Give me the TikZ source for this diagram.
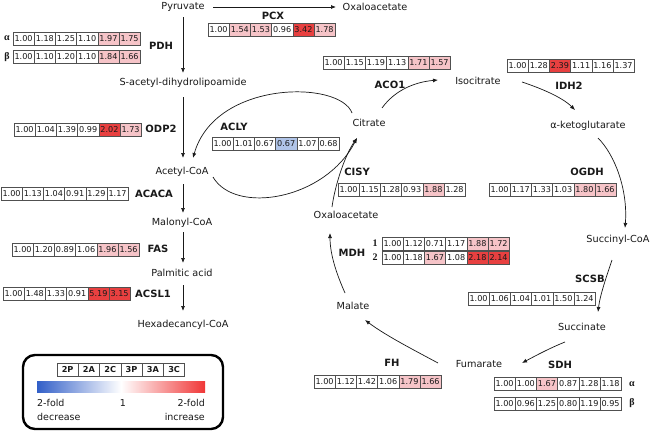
\documentclass[tikz,border=0pt]{standalone}
\usepackage{fontspec}
\setmainfont{DejaVu Sans}
\newfontfamily\grk{Liberation Serif}
\usetikzlibrary{arrows.meta}
\definecolor{cP}{RGB}{246,196,200}
\definecolor{cR}{RGB}{232,64,64}
\definecolor{cB}{RGB}{176,196,232}
\definecolor{cW}{RGB}{255,255,255}
\definecolor{cellline}{RGB}{80,80,80}
\definecolor{gBlue}{RGB}{50,95,200}
\definecolor{gRed}{RGB}{240,55,55}
\definecolor{ink}{RGB}{25,25,25}
\newcommand\vrow[4]{%
  \foreach \v/\c [count=\i] in {#4} {%
    \node[cell,fill=\c] (#1-\i) at ({#2+(\i-0.5)*21.2},{#3+6.75}) {\v};}}
\begin{document}
\begin{tikzpicture}[x=1pt,y=-1pt,
  met/.style={font=\fontsize{9.7}{11}\selectfont, inner sep=0pt, text=ink},
  enz/.style={font=\bfseries\fontsize{10}{12}\selectfont, inner sep=0pt, text=ink},
  grl/.style={font=\grk\bfseries\fontsize{10}{11}\selectfont, inner sep=0pt, text=ink},
  cell/.style={draw=cellline, line width=0.6pt, minimum width=21.2pt, minimum height=13.5pt, inner sep=0pt, text=ink, font=\fontsize{8.1}{9}\selectfont},
  hcell/.style={draw=cellline, line width=0.6pt, minimum width=21.2pt, minimum height=13pt, inner sep=0pt, text=ink, font=\bfseries\fontsize{8.2}{9}\selectfont},
  leg/.style={font=\fontsize{9.5}{11}\selectfont, inner sep=0pt, text=ink},
  arr/.style={-{Latex[length=5pt,width=4pt]}, line width=0.7pt, draw=ink}]
\fill[white] (0,0) rectangle (656,431);
\useasboundingbox (0,0) rectangle (656,431);

% metabolites (left chain)
\node[met] (pyr) at (183,7) {Pyruvate};
\node[met] (oaa1) at (375,7) {Oxaloacetate};
\node[met] (sadl) at (183,83) {S-acetyl-dihydrolipoamide};
\node[met] (acoa) at (182,172) {Acetyl-CoA};
\node[met] (mal) at (182,223) {Malonyl-CoA};
\node[met] (palm) at (182,273) {Palmitic acid};
\node[met] (hexa) at (183,325) {Hexadecancyl-CoA};
% TCA metabolites
\node[met] (cit) at (369,123) {Citrate};
\node[met] (iso) at (478,81) {Isocitrate};
\node[met] (akg) at (588,126) {α-ketoglutarate};
\node[met] (scoa) at (618,240) {Succinyl-CoA};
\node[met] (succ) at (582,327) {Succinate};
\node[met] (fum) at (479,364) {Fumarate};
\node[met] (malt) at (353,306) {Malate};
\node[met] (oaa2) at (346,215) {Oxaloacetate};

% enzyme labels
\node[enz] (lpcx) at (273,16) {PCX};
\node[enz] (lpdh) at (161,46) {PDH};
\node[enz] (lodp) at (161,129) {ODP2};
\node[enz] (lacly) at (234,127) {ACLY};
\node[enz] (lacaca) at (154,194) {ACACA};
\node[enz] (lfas) at (158,249) {FAS};
\node[enz] (lacsl) at (153,294) {ACSL1};
\node[enz] (laco) at (390,85) {ACO1};
\node[enz] (lidh) at (569,86) {IDH2};
\node[enz] (lcisy) at (357,172) {CISY};
\node[enz] (logdh) at (587,172) {OGDH};
\node[enz] (lmdh) at (352,253) {MDH};
\node[enz] (lscsb) at (590,279) {SCSB};
\node[enz] (lfh) at (392,363) {FH};
\node[enz] (lsdh) at (560,365) {SDH};
\node[grl] (gpdha) at (7,38) {α};
\node[grl] (gpdhb) at (7,57) {β};
\node[grl] (gsdha) at (632,384) {α};
\node[grl] (gsdhb) at (632,403) {β};
\node[grl] (gmdh1) at (375,243) {1};
\node[grl] (gmdh2) at (375,257) {2};

% value tables
\vrow{pcx}{208}{23}{1.00/cW,1.54/cP,1.53/cP,0.96/cW,3.42/cR,1.78/cP}
\vrow{pdha}{13}{32}{1.00/cW,1.18/cW,1.25/cW,1.10/cW,1.97/cP,1.75/cP}
\vrow{pdhb}{13}{50}{1.00/cW,1.10/cW,1.20/cW,1.10/cW,1.84/cP,1.66/cP}
\vrow{odp}{14}{123}{1.00/cW,1.04/cW,1.39/cW,0.99/cW,2.02/cR,1.73/cP}
\vrow{acly}{212}{137}{1.00/cW,1.01/cW,0.67/cW,0.67/cB,1.07/cW,0.68/cW}
\vrow{acaca}{1}{187}{1.00/cW,1.13/cW,1.04/cW,0.91/cW,1.29/cW,1.17/cW}
\vrow{fas}{12}{243}{1.00/cW,1.20/cW,0.89/cW,1.06/cW,1.96/cP,1.56/cP}
\vrow{acsl}{3}{287}{1.00/cW,1.48/cW,1.33/cW,0.91/cW,5.19/cR,3.15/cR}
\vrow{aco}{323}{56}{1.00/cW,1.15/cW,1.19/cW,1.13/cW,1.71/cP,1.57/cP}
\vrow{idh}{507}{59}{1.00/cW,1.28/cW,2.39/cR,1.11/cW,1.16/cW,1.37/cW}
\vrow{cisy}{338}{183}{1.00/cW,1.15/cW,1.28/cW,0.93/cW,1.88/cP,1.28/cW}
\vrow{ogdh}{489}{183}{1.00/cW,1.17/cW,1.33/cW,1.03/cW,1.80/cP,1.66/cP}
\vrow{mdha}{382}{237}{1.00/cW,1.12/cW,0.71/cW,1.17/cW,1.88/cP,1.72/cP}
\vrow{mdhb}{382}{251}{1.00/cW,1.18/cW,1.67/cP,1.08/cW,2.18/cR,2.14/cR}
\vrow{scsb}{468}{292}{1.00/cW,1.06/cW,1.04/cW,1.01/cW,1.50/cW,1.24/cW}
\vrow{fh}{314}{375}{1.00/cW,1.12/cW,1.42/cW,1.06/cW,1.79/cP,1.66/cP}
\vrow{sdha}{494}{377}{1.00/cW,1.00/cW,1.67/cP,0.87/cW,1.28/cW,1.18/cW}
\vrow{sdhb}{494}{397}{1.00/cW,0.96/cW,1.25/cW,0.80/cW,1.19/cW,0.95/cW}

% straight connectors
\draw[arr] ([shift={(0,10)}]pyr.center) -- ([shift={(0,-10)}]sadl.center);
\draw[arr] ([shift={(0,14)}]sadl.center) -- ([shift={(1,-14)}]acoa.center);
\draw[arr] ([shift={(1,12)}]acoa.center) -- ([shift={(1,-10)}]mal.center);
\draw[arr] ([shift={(1,9)}]mal.center) -- ([shift={(1,-10)}]palm.center);
\draw[arr] ([shift={(1,12)}]palm.center) -- ([shift={(0,-14)}]hexa.center);
\draw[arr] ([shift={(30,0)}]pyr.center) -- ([shift={(-39,0)}]oaa1.center);

% curved connectors
\draw[arr] ([shift={(-17,-10)}]cit.center) .. controls (340,80) and (215,80) .. ([shift={(11,-14)}]acoa.center);
\draw[arr] ([shift={(31,5)}]acoa.center) .. controls (235,215) and (325,200) .. ([shift={(-12,15)}]cit.center);
\draw[arr] ([shift={(-14,-8)}]oaa2.center) .. controls (335,185) and (345,155) .. ([shift={(-12,15)}]cit.center);
\draw[arr] ([shift={(13,-15)}]cit.center) .. controls (395,90) and (415,82) .. ([shift={(-40,-1)}]iso.center);
\draw[arr] ([shift={(44,1)}]iso.center) .. controls (540,88) and (562,97) .. ([shift={(-13,-16)}]akg.center);
\draw[arr] ([shift={(10,12)}]akg.center) .. controls (615,155) and (628,190) .. ([shift={(7,-12)}]scoa.center);
\draw[arr] ([shift={(-6,20)}]scoa.center) .. controls (607,275) and (600,295) .. ([shift={(16,-15)}]succ.center);
\draw[arr] ([shift={(-17,15)}]succ.center) .. controls (550,348) and (535,356) .. ([shift={(43,-1)}]fum.center);
\draw[arr] ([shift={(-41,-1)}]fum.center) .. controls (410,348) and (385,335) .. ([shift={(12,14)}]malt.center);
\draw[arr] ([shift={(-8,-13)}]malt.center) .. controls (337,275) and (330,255) .. ([shift={(-16,18)}]oaa2.center);

% legend
\node[draw=black, line width=2.4pt, rounded corners=12pt, minimum width=200pt, minimum height=74pt, inner sep=0pt] (legend) at (123,392) {};
\foreach \t [count=\i] in {2P,2A,2C,3P,3A,3C} {
  \node[hcell] (leg-\i) at ({57+(\i-0.5)*21.3},369.5) {\t};}
\node[minimum width=168pt, minimum height=11pt, inner sep=0pt, left color=gBlue, right color=gRed, middle color=white] (bar) at (121,386.5) {};
\node[leg, anchor=west] (lf1) at (37,403) {2-fold};
\node[leg, anchor=west] (ldec) at (37,417) {decrease};
\node[leg] (lone) at (123,403) {1};
\node[leg, anchor=east] (lf2) at (205,403) {2-fold};
\node[leg, anchor=east] (linc) at (205,417) {increase};
\end{tikzpicture}
\end{document}
